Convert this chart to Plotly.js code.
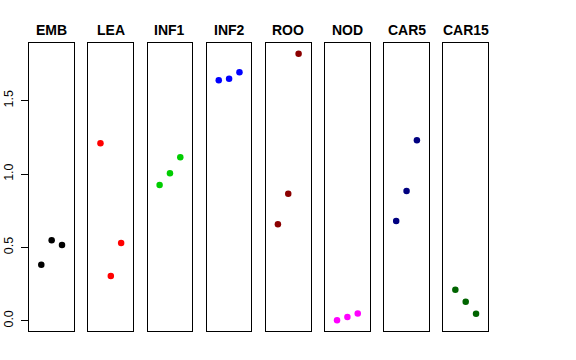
<!DOCTYPE html>
<html>
<head>
<meta charset="utf-8">
<script src="https://cdn.plot.ly/plotly-3.0.1.min.js"></script>
<style>html,body{margin:0;padding:0;background:#fff;}#chart{width:576px;height:360px;}</style>
</head>
<body>
<div id="chart"></div>
<script>
const panels = ["EMB", "LEA", "INF1", "INF2", "ROO", "NOD", "CAR5", "CAR15"];
const colors = ["#000000", "#FF0000", "#00CD00", "#0000FF", "#8B0000", "#FF00FF", "#000080", "#006400"];
const positions = [1, 2, 3];
const EMB = [0.382, 0.548, 0.516];
const LEA = [1.21, 0.305, 0.53];
const INF1 = [0.925, 1.005, 1.114];
const INF2 = [1.639, 1.650, 1.694];
const ROO = [0.657, 0.866, 1.820];
const NOD = [0.003, 0.025, 0.050];
const CAR5 = [0.680, 0.884, 1.230];
const CAR15 = [0.211, 0.130, 0.048];
const series = [EMB, LEA, INF1, INF2, ROO, NOD, CAR5, CAR15];
const yTicks = [0, 0.5, 1.0, 1.5];
const yTickText = ["0.0", "0.5", "1.0", "1.5"];

const W = 576, H = 360;
const firstLeft = 29.3, panelW = 44.7, step = 59.15;
const yDom = [(H - 330.7) / H, (H - 43.3) / H];
const traces = [];
const layout = {
  width: W, height: H,
  margin: {l: 0, r: 0, t: 0, b: 0},
  paper_bgcolor: "#ffffff", plot_bgcolor: "#ffffff",
  showlegend: false,
  font: {family: "Liberation Sans, Arial, sans-serif", color: "#000"},
  annotations: []
};
panels.forEach((name, i) => {
  const n = i === 0 ? "" : String(i + 1);
  const left = (firstLeft + i * step) / W;
  const right = (firstLeft + i * step + panelW) / W;
  traces.push({
    type: "scatter", mode: "markers",
    x: positions, y: series[i],
    xaxis: "x" + n, yaxis: "y" + n,
    marker: {color: colors[i], size: 6.5},
    hoverinfo: "skip"
  });
  layout["xaxis" + n] = {
    domain: [left, right], range: [-0.16, 4.16], anchor: "y" + n,
    showline: true, mirror: true, linecolor: "#000", linewidth: 1,
    showgrid: false, zeroline: false, showticklabels: false, ticks: ""
  };
  layout["yaxis" + n] = {
    domain: yDom, range: [-0.068, 1.891], anchor: "x" + n,
    showline: true, mirror: true, linecolor: "#000", linewidth: 1,
    showgrid: false, zeroline: false,
    showticklabels: i === 0, ticks: i === 0 ? "outside" : "",
    ticklen: 7, tickcolor: "#000", tickwidth: 1,
    tickvals: yTicks, ticktext: yTickText, tickangle: -90,
    ticklabelstandoff: 3,
    tickfont: {size: 12.5, color: "#000", family: "Liberation Sans, Arial, sans-serif"}
  };
  layout.annotations.push({
    text: "<b>" + name + "</b>", xref: "paper", yref: "paper",
    x: (left + right) / 2, y: (H - 30) / H, xanchor: "center", yanchor: "middle",
    showarrow: false, font: {size: 14, color: "#000", family: "Liberation Sans, Arial, sans-serif"}
  });
});
Plotly.newPlot("chart", traces, layout, {staticPlot: true, displayModeBar: false});
</script>
</body>
</html>
